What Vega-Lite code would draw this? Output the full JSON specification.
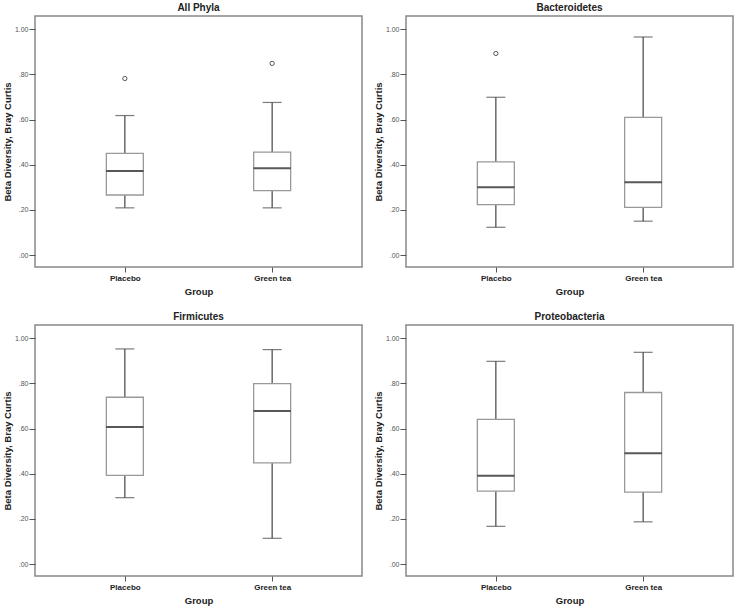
{
  "$schema": "https://vega.github.io/schema/vega-lite/v6.json",
  "background": "white",
  "padding": {"left": 1, "top": 2, "right": 3, "bottom": 2},
  "data": {
    "values": [
      {"panel": "All Phyla", "group": "Placebo", "lower": 0.209, "q1": 0.266, "median": 0.372, "q3": 0.45, "upper": 0.618},
      {"panel": "All Phyla", "group": "Green tea", "lower": 0.209, "q1": 0.285, "median": 0.385, "q3": 0.456, "upper": 0.676},
      {"panel": "All Phyla", "group": "Placebo", "outlier": 0.782},
      {"panel": "All Phyla", "group": "Green tea", "outlier": 0.849},
      {"panel": "Bacteroidetes", "group": "Placebo", "lower": 0.123, "q1": 0.223, "median": 0.3, "q3": 0.413, "upper": 0.699},
      {"panel": "Bacteroidetes", "group": "Green tea", "lower": 0.15, "q1": 0.211, "median": 0.323, "q3": 0.61, "upper": 0.966},
      {"panel": "Bacteroidetes", "group": "Placebo", "outlier": 0.893},
      {"panel": "Firmicutes", "group": "Placebo", "lower": 0.294, "q1": 0.393, "median": 0.607, "q3": 0.739, "upper": 0.953},
      {"panel": "Firmicutes", "group": "Green tea", "lower": 0.114, "q1": 0.448, "median": 0.678, "q3": 0.799, "upper": 0.95},
      {"panel": "Proteobacteria", "group": "Placebo", "lower": 0.167, "q1": 0.323, "median": 0.391, "q3": 0.641, "upper": 0.898},
      {"panel": "Proteobacteria", "group": "Green tea", "lower": 0.187, "q1": 0.319, "median": 0.491, "q3": 0.76, "upper": 0.938}
    ]
  },
  "facet": {
    "field": "panel",
    "type": "nominal",
    "title": null,
    "header": {"labelFontSize": 10, "labelFontWeight": "bold", "labelFont": "Liberation Sans", "labelColor": "#222", "labelPadding": 3}
  },
  "columns": 2,
  "spacing": {"column": 9, "row": 14},
  "resolve": {"axis": {"x": "independent", "y": "independent"}},
  "spec": {
    "width": 327,
    "height": 251,
    "encoding": {
      "x": {
        "field": "group",
        "type": "nominal",
        "sort": ["Placebo", "Green tea"],
        "scale": {"type": "point", "padding": 0.61},
        "title": "Group",
        "axis": {"domain": false, "labelAngle": 0, "labelFontSize": 8, "labelFontWeight": "bold", "labelColor": "#222", "labelPadding": 2, "tickSize": 5, "tickColor": "#555", "titleFontSize": 9.5, "titleFontWeight": "bold", "titleColor": "#222", "titlePadding": 4}
      }
    },
    "layer": [
      {
        "transform": [{"filter": "isValid(datum.median)"}],
        "mark": {"type": "rule", "color": "#444", "strokeWidth": 1.2},
        "encoding": {
          "y": {"field": "lower", "type": "quantitative", "title": "Beta Diversity, Bray Curtis",
            "scale": {"domain": [-0.053, 1.059], "nice": false, "zero": false},
            "axis": {"domain": false, "grid": false, "values": [0, 0.2, 0.4, 0.6, 0.8, 1.0], "labelExpr": "replace(format(datum.value, '.2f'), /^0/, '')", "labelFontSize": 7, "labelColor": "#555", "labelPadding": 1, "tickSize": 6, "tickColor": "#555", "titleFontSize": 9.5, "titleFontWeight": "bold", "titleColor": "#222", "titlePadding": 2}},
          "y2": {"field": "upper"}
        }
      },
      {
        "transform": [{"filter": "isValid(datum.median)"}],
        "mark": {"type": "tick", "color": "#444", "size": 19, "thickness": 1.2},
        "encoding": {"y": {"field": "lower", "type": "quantitative", "title": "Beta Diversity, Bray Curtis"}}
      },
      {
        "transform": [{"filter": "isValid(datum.median)"}],
        "mark": {"type": "tick", "color": "#444", "size": 19, "thickness": 1.2},
        "encoding": {"y": {"field": "upper", "type": "quantitative", "title": "Beta Diversity, Bray Curtis"}}
      },
      {
        "transform": [{"filter": "isValid(datum.median)"}],
        "mark": {"type": "bar", "fill": "white", "stroke": "#999", "strokeWidth": 1.3, "size": 37},
        "encoding": {
          "y": {"field": "q1", "type": "quantitative", "title": "Beta Diversity, Bray Curtis"},
          "y2": {"field": "q3"}
        }
      },
      {
        "transform": [{"filter": "isValid(datum.median)"}],
        "mark": {"type": "tick", "color": "#111", "size": 37, "thickness": 2},
        "encoding": {"y": {"field": "median", "type": "quantitative", "title": "Beta Diversity, Bray Curtis"}}
      },
      {
        "transform": [{"filter": "isValid(datum.outlier)"}],
        "mark": {"type": "point", "shape": "circle", "filled": false, "size": 18, "stroke": "#444", "strokeWidth": 0.9, "opacity": 1},
        "encoding": {"y": {"field": "outlier", "type": "quantitative", "title": "Beta Diversity, Bray Curtis"}}
      }
    ]
  },
  "config": {
    "font": "Liberation Sans",
    "view": {"stroke": "#888", "strokeWidth": 1.5}
  }
}
